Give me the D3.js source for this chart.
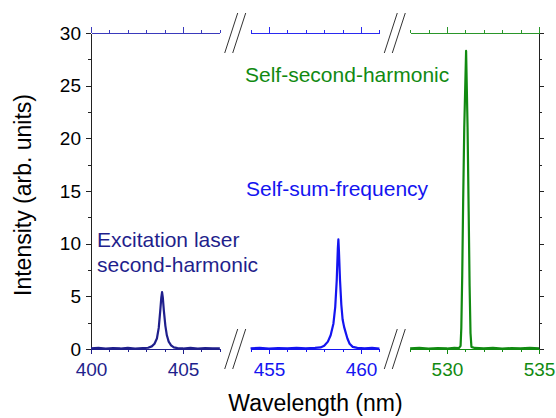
<!DOCTYPE html>
<html>
<head>
<meta charset="utf-8">
<script src="https://cdn.jsdelivr.net/npm/d3@7"></script>
<style>
  html, body { margin: 0; padding: 0; background: #fff; }
  svg { display: block; font-family: "Liberation Sans", Arial, sans-serif; }
</style>
</head>
<body>
<svg id="chart" width="556" height="418"></svg>
<script>
// Broken-axis spectrum: three wavelength windows sharing one intensity axis.

// Wavelength windows (nm) and the labelled ticks in each.
var windows = [[400, 407], [454, 461], [528, 535]];
var windowLabels = [[400, 405], [455, 460], [530, 535]];
var windowColors = ['#1f1f8c', '#1414f0', '#118a11'];
var topAxisColors = ['#3a3abc', '#2a2af0', '#2a962a'];

// Intensity ticks.
var yMajor = [0, 5, 10, 15, 20, 25, 30];
var yMinor = [2.5, 7.5, 12.5, 17.5, 22.5, 27.5];

// Spectra, [wavelength nm, intensity].
var laserSH = [
  [400.0, 0.06], [400.4, 0.1], [400.8, 0.03], [401.2, 0.08], [401.6, 0.05],
  [402.0, 0.1], [402.4, 0.04], [402.8, 0.08], [403.1, 0.12], [403.3, 0.25],
  [403.45, 0.5], [403.58, 1.0], [403.68, 2.0], [403.76, 3.6], [403.82, 4.9],
  [403.86, 5.4], [403.9, 4.9], [403.96, 3.6], [404.04, 2.2], [404.12, 1.3],
  [404.22, 0.7], [404.35, 0.35], [404.5, 0.15], [404.7, 0.08], [405.0, 0.05],
  [405.4, 0.1], [405.8, 0.04], [406.2, 0.08], [406.6, 0.05], [407.0, 0.07]
];
var sumFreq = [
  [454.0, 0.06], [454.5, 0.1], [455.0, 0.04], [455.5, 0.09], [456.0, 0.05],
  [456.5, 0.1], [457.0, 0.06], [457.5, 0.1], [457.8, 0.15], [458.0, 0.3],
  [458.2, 0.7], [458.35, 1.3], [458.5, 2.4], [458.6, 4.0], [458.68, 6.5],
  [458.74, 9.5], [458.77, 10.4], [458.8, 9.3], [458.86, 6.5], [458.93, 4.2],
  [459.0, 2.8], [459.08, 2.1], [459.16, 1.6], [459.26, 1.0], [459.38, 0.5],
  [459.55, 0.2], [459.8, 0.1], [460.2, 0.06], [460.6, 0.1], [461.0, 0.05]
];
var selfSH = [
  [528.0, 0.06], [528.5, 0.1], [529.0, 0.04], [529.5, 0.09], [530.0, 0.05],
  [530.4, 0.1], [530.65, 0.08], [530.74, 0.3], [530.78, 2], [530.83, 7],
  [530.88, 14], [530.94, 21], [531.04, 28.3], [531.12, 21], [531.18, 13],
  [531.23, 6], [531.28, 1.5], [531.33, 0.2], [531.5, 0.1], [532.0, 0.05],
  [532.5, 0.1], [533.0, 0.04], [533.5, 0.08], [534.0, 0.05], [534.5, 0.1],
  [535.0, 0.06]
];
var spectra = [laserSH, sumFreq, selfSH];

var svg = d3.select('#chart');
// note: "top" is a reserved window global, so use plot* names
var plotLeft = 91, plotRight = 539, plotTop = 33, plotBottom = 349;
var gap = 30.7;
var segW = (plotRight - plotLeft - 2 * gap) / 3;

var y = d3.scaleLinear().domain([0, 30]).range([plotBottom, plotTop]);

var xs = windows.map(function(d, i) {
  var x0 = plotLeft + i * (segW + gap);
  return d3.scaleLinear().domain(d).range([x0, x0 + segW]);
});

// Style an axis group: colour lines and labels.
function styleAxis(g, color, fontSize) {
  g.selectAll('path, line').attr('stroke', color).attr('shape-rendering', 'crispEdges');
  g.selectAll('text').attr('fill', color).style('font-size', fontSize + 'px')
    .style('font-family', '"Liberation Sans", Arial, sans-serif');
}

// Left intensity axis.
var gl = svg.append('g').attr('transform', 'translate(' + plotLeft + ',0)');
gl.call(d3.axisLeft(y).tickValues(yMajor).tickSize(5).tickPadding(5).tickSizeOuter(0));
gl.append('g').call(d3.axisLeft(y).tickValues(yMinor).tickSize(3).tickFormat('').tickSizeOuter(0));
styleAxis(gl, '#222', 19);
gl.selectAll('text').attr('fill', '#000');

// Right intensity axis, ticks only.
var gr = svg.append('g').attr('transform', 'translate(' + plotRight + ',0)');
gr.call(d3.axisRight(y).tickValues(yMajor).tickSize(5).tickFormat('').tickSizeOuter(0));
gr.append('g').call(d3.axisRight(y).tickValues(yMinor).tickSize(3).tickFormat('').tickSizeOuter(0));
styleAxis(gr, '#222', 19);

// Per-window bottom and top axes.
windows.forEach(function(w, i) {
  var x = xs[i];
  var minor = d3.range(w[0], w[1] + 1).filter(function(v) {
    return windowLabels[i].indexOf(v) < 0;
  });

  var gb = svg.append('g').attr('transform', 'translate(0,' + plotBottom + ')');
  gb.call(d3.axisBottom(x).tickValues(windowLabels[i]).tickSize(5).tickPadding(9)
    .tickFormat(d3.format('d')).tickSizeOuter(0));
  gb.append('g').call(d3.axisBottom(x).tickValues(minor).tickSize(3).tickFormat('').tickSizeOuter(0));
  styleAxis(gb, windowColors[i], 19);

  var gt = svg.append('g').attr('transform', 'translate(0,' + plotTop + ')');
  gt.call(d3.axisTop(x).tickValues(windowLabels[i]).tickSize(6).tickFormat('').tickSizeOuter(0));
  gt.append('g').call(d3.axisTop(x).tickValues(minor).tickSize(3).tickFormat('').tickSizeOuter(0));
  styleAxis(gt, topAxisColors[i], 19);
});

// Break marks "//" centred in each gap, on both axes.
[0, 1].forEach(function(i) {
  var mid = (xs[i].range()[1] + xs[i + 1].range()[0]) / 2;
  [plotTop, plotBottom].forEach(function(ay) {
    [-4, 4].forEach(function(off) {
      svg.append('line')
        .attr('x1', mid + off - 6.5).attr('y1', ay + 20)
        .attr('x2', mid + off + 6.5).attr('y2', ay - 20)
        .attr('stroke', '#333').attr('stroke-width', 1);
    });
  });
});

// Spectra.
spectra.forEach(function(data, i) {
  var line = d3.line()
    .x(function(d) { return xs[i](d[0]); })
    .y(function(d) { return y(d[1]); });
  svg.append('path')
    .datum(data)
    .attr('d', line)
    .attr('fill', 'none')
    .attr('stroke', windowColors[i])
    .attr('stroke-width', 2.2)
    .attr('stroke-linejoin', 'round');
});

// Annotations.
var notes = [
  { lines: ['Excitation laser', 'second-harmonic'], x: 97, y: 247, color: windowColors[0] },
  { lines: ['Self-sum-frequency'], x: 246, y: 196, color: windowColors[1] },
  { lines: ['Self-second-harmonic'], x: 245, y: 82, color: windowColors[2] }
];
notes.forEach(function(n) {
  var t = svg.append('text')
    .attr('x', n.x).attr('y', n.y)
    .attr('fill', n.color)
    .style('font-size', '21px');
  n.lines.forEach(function(s, k) {
    t.append('tspan').attr('x', n.x).attr('dy', k === 0 ? 0 : 25).text(s);
  });
});

// Axis titles.
svg.append('text')
  .attr('x', (plotLeft + plotRight) / 2 + 0.5).attr('y', 411)
  .attr('text-anchor', 'middle')
  .style('font-size', '23px')
  .text('Wavelength (nm)');

svg.append('text')
  .attr('transform', 'translate(31,195) rotate(-90)')
  .attr('text-anchor', 'middle')
  .style('font-size', '23px')
  .text('Intensity (arb. units)');
</script>
</body>
</html>
